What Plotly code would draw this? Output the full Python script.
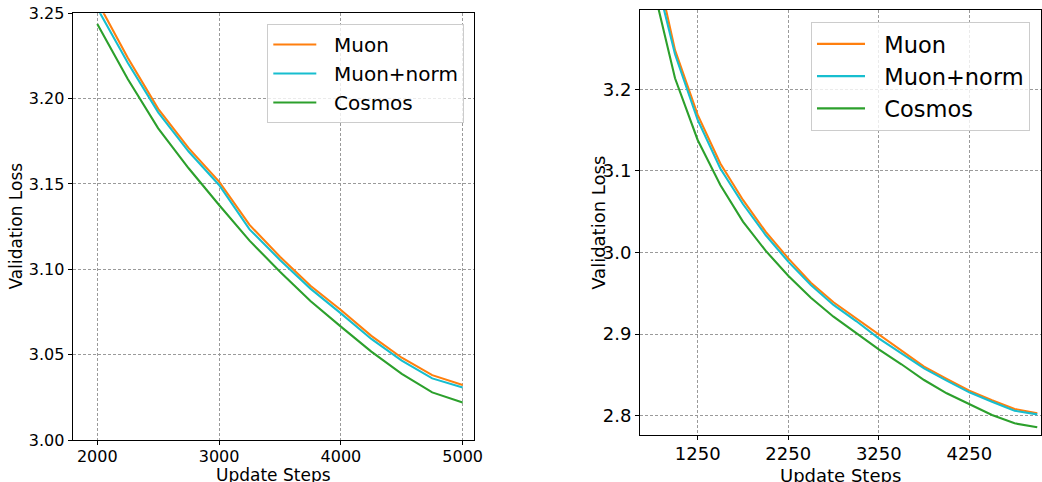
import plotly.graph_objects as go

# ---------------- data ----------------
# Left panel
steps_left = [2000, 2250, 2500, 2750, 3000, 3250, 3500, 3750, 4000, 4250, 4500, 4750, 5000]
muon_left = [3.257, 3.224, 3.194, 3.171, 3.1514, 3.126, 3.1074, 3.0904, 3.0762, 3.061, 3.0482, 3.038, 3.0322]
muon_norm_left = [3.253, 3.221, 3.192, 3.169, 3.1494, 3.1234, 3.1055, 3.0887, 3.0742, 3.0592, 3.0465, 3.0361, 3.0307]
cosmos_left = [3.2437, 3.2115, 3.1826, 3.1592, 3.1377, 3.1168, 3.0986, 3.0814, 3.0664, 3.0518, 3.0387, 3.0279, 3.0220]

# Right panel
steps_right = [750, 1000, 1250, 1500, 1750, 2000, 2250, 2500, 2750, 3000, 3250, 3500,
               3750, 4000, 4250, 4500, 4750, 5000]
muon_right = [3.372, 3.248, 3.1686, 3.109, 3.0644, 3.0255, 2.9928, 2.963, 2.939, 2.9193, 2.8989,
              2.8793, 2.860, 2.845, 2.8306, 2.819, 2.8082, 2.8029]
muon_norm_right = [3.355, 3.243, 3.1624, 3.103, 3.0594, 3.0214, 2.9888, 2.9602, 2.9357, 2.916,
                   2.8948, 2.8764, 2.858, 2.843, 2.8286, 2.817, 2.806, 2.8016]
cosmos_right = [3.330, 3.2135, 3.1379, 3.0827, 3.0378, 3.0022, 2.9716, 2.9446, 2.9213, 2.901,
                2.8813, 2.863, 2.8437, 2.8274, 2.8143, 2.8008, 2.7906, 2.7857]

series_names = ["Muon", "Muon+norm", "Cosmos"]
series_colors = ["#ff7f0e", "#17becf", "#2ca02c"]

left_xticks = [2000, 3000, 4000, 5000]
left_yticks = [3.00, 3.05, 3.10, 3.15, 3.20, 3.25]
right_xticks = [1250, 2250, 3250, 4250]
right_yticks = [2.8, 2.9, 3.0, 3.1, 3.2]

x_title = "Update Steps"
y_title = "Validation Loss"

# ---------------- figure ----------------
W, H = 1042, 482
FONT = "DejaVu Sans"
NB = "\u00a0\u00a0"  # spacing between legend handle and label
fig = go.Figure()

left_series = [muon_left, muon_norm_left, cosmos_left]
right_series = [muon_right, muon_norm_right, cosmos_right]

for name, color, ys in zip(series_names, series_colors, left_series):
    fig.add_trace(go.Scatter(x=steps_left, y=ys, mode="lines", name=NB + name,
                             line=dict(color=color, width=2.1),
                             xaxis="x", yaxis="y", legend="legend"))
for name, color, ys in zip(series_names, series_colors, right_series):
    fig.add_trace(go.Scatter(x=steps_right, y=ys, mode="lines", name=NB + name,
                             line=dict(color=color, width=2.1),
                             xaxis="x2", yaxis="y2", legend="legend2"))


def px_x(p):
    return p / W


def px_y(p):
    return 1 - p / H


axis_common = dict(showline=True, linecolor="black", linewidth=1.1, mirror=True,
                   ticks="outside", ticklen=4, tickwidth=1, tickcolor="black",
                   showgrid=True, gridcolor="#9a9a9a", gridwidth=0.8, griddash="3px,2px",
                   zeroline=False, automargin=False)

fig.update_layout(
    width=W, height=H,
    margin=dict(l=0, r=0, t=0, b=0, autoexpand=False),
    paper_bgcolor="white", plot_bgcolor="white",
    font=dict(family=FONT, color="black"),
    xaxis=dict(domain=[px_x(72.7), px_x(474)], range=[1798, 5093], anchor="y",
               tickvals=left_xticks, ticktext=[str(v) for v in left_xticks],
               tickfont=dict(size=16), ticklabelstandoff=-2, **axis_common),
    yaxis=dict(domain=[px_y(440), px_y(13.3)], range=[3.00, 3.25], anchor="x",
               tickvals=left_yticks, ticktext=[f"{v:.2f}" for v in left_yticks],
               tickfont=dict(size=16), **axis_common),
    xaxis2=dict(domain=[px_x(640), px_x(1040.7)], range=[613, 5038], anchor="y2",
                tickvals=right_xticks, ticktext=[str(v) for v in right_xticks],
                tickfont=dict(size=18), ticklabelstandoff=-2, **axis_common),
    yaxis2=dict(domain=[px_y(435), px_y(10)], range=[2.7763, 3.2972], anchor="x2",
                tickvals=right_yticks, ticktext=[f"{v:.1f}" for v in right_yticks],
                tickfont=dict(size=18), **axis_common),
    legend=dict(x=px_x(464.3), y=px_y(24), xanchor="right", yanchor="top",
                bgcolor="rgba(255,255,255,0.8)", bordercolor="#cccccc", borderwidth=1,
                font=dict(size=20, family=FONT), tracegroupgap=0, itemwidth=43),
    legend2=dict(x=px_x(1030), y=px_y(21.7), xanchor="right", yanchor="top",
                 bgcolor="rgba(255,255,255,0.8)", bordercolor="#cccccc", borderwidth=1,
                 font=dict(size=22.5, family=FONT), tracegroupgap=0, itemwidth=48),
    showlegend=True,
)

annotations = [
    dict(text=y_title, x=px_x(15), y=px_y(226.5), xref="paper", yref="paper",
         textangle=-90, showarrow=False, xanchor="center", yanchor="middle",
         font=dict(size=17, family=FONT)),
    dict(text=y_title, x=px_x(598.3), y=px_y(222.5), xref="paper", yref="paper",
         textangle=-90, showarrow=False, xanchor="center", yanchor="middle",
         font=dict(size=18, family=FONT)),
    dict(text=x_title, x=px_x(273.3), y=px_y(474.5), xref="paper", yref="paper",
         showarrow=False, xanchor="center", yanchor="middle",
         font=dict(size=17, family=FONT)),
    dict(text=x_title, x=px_x(840.8), y=px_y(475), xref="paper", yref="paper",
         showarrow=False, xanchor="center", yanchor="middle",
         font=dict(size=18, family=FONT)),
]
fig.update_layout(annotations=annotations)

fig.write_html("out.html")
